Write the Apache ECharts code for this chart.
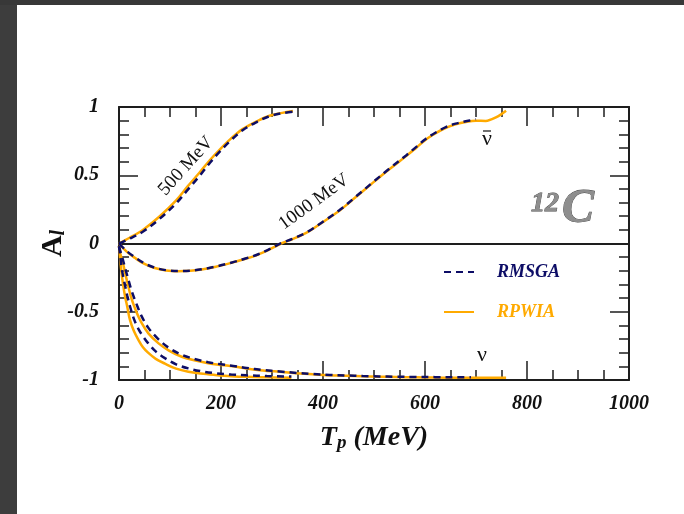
<!DOCTYPE html>
<html>
<head>
<meta charset="utf-8">
<script src="https://cdn.jsdelivr.net/npm/echarts@6/dist/echarts.min.js"></script>
<style>
html,body{margin:0;padding:0;background:#fff;}
#chart{width:684px;height:514px;}
</style>
</head>
<body>
<div id="chart"></div>
<script>
// ---- data ----
// anti-neutrino, 500 MeV
const tp_nubar500   = [0, 20, 48, 80, 113, 135, 158, 178, 198, 220, 243, 270, 295, 320, 341];
const rpwia_nubar500 = [0, 0.04, 0.103, 0.2, 0.32, 0.42, 0.52, 0.61, 0.69, 0.77, 0.84, 0.895, 0.936, 0.957, 0.97];
const rmsga_nubar500 = [0, 0.034, 0.09, 0.182, 0.298, 0.395, 0.495, 0.59, 0.675, 0.758, 0.832, 0.89, 0.932, 0.955, 0.966];
// anti-neutrino, 1000 MeV
const tp_nubar1000   = [0, 15, 31, 50, 70, 92, 116, 140, 162, 190, 220, 248, 273, 296, 318, 340, 367, 400, 432, 465, 498, 530, 563, 583, 602, 622, 641, 660, 680, 700, 719, 739, 759];
const rpwia_nubar1000 = [0, -0.06, -0.105, -0.15, -0.18, -0.197, -0.203, -0.2, -0.19, -0.17, -0.142, -0.112, -0.081, -0.042, 0, 0.032, 0.078, 0.158, 0.24, 0.342, 0.446, 0.544, 0.64, 0.702, 0.762, 0.81, 0.848, 0.873, 0.89, 0.899, 0.898, 0.924, 0.973];
const tp_nubar1000_rm = [0, 15, 31, 50, 70, 92, 116, 140, 162, 190, 220, 248, 273, 296, 318, 340, 367, 400, 432, 465, 498, 530, 563, 583, 602, 622, 641, 660, 680, 700];
const rmsga_nubar1000 = [0, -0.055, -0.1, -0.146, -0.177, -0.195, -0.201, -0.199, -0.189, -0.169, -0.141, -0.11, -0.079, -0.04, 0.002, 0.034, 0.08, 0.16, 0.243, 0.345, 0.449, 0.548, 0.645, 0.708, 0.768, 0.815, 0.853, 0.878, 0.895, 0.91];
// neutrino, 500 MeV
const tp_nu500    = [0, 2, 5, 8, 12, 16, 21.5, 29, 38, 47, 57, 72, 90, 112, 136, 160, 188, 220, 250, 290, 338];
const rpwia_nu500 = [-0.02, -0.1, -0.215, -0.3, -0.39, -0.46, -0.56, -0.64, -0.706, -0.76, -0.8, -0.845, -0.88, -0.917, -0.94, -0.953, -0.963, -0.972, -0.977, -0.98, -0.983];
const rmsga_nu500 = [-0.02, -0.08, -0.17, -0.24, -0.31, -0.38, -0.46, -0.55, -0.625, -0.68, -0.73, -0.79, -0.84, -0.885, -0.915, -0.935, -0.95, -0.96, -0.966, -0.971, -0.975];
// neutrino, 1000 MeV
const tp_nu1000    = [0, 3, 7, 12, 18, 25, 34, 44, 58, 77, 98, 123, 150, 175, 200, 224, 250, 282, 315, 348, 380, 413, 445, 478, 510, 543, 580, 620, 674, 720, 759];
const rpwia_nu1000 = [-0.02, -0.08, -0.13, -0.215, -0.31, -0.41, -0.5, -0.58, -0.66, -0.73, -0.785, -0.83, -0.857, -0.877, -0.89, -0.9, -0.915, -0.93, -0.94, -0.95, -0.958, -0.965, -0.969, -0.973, -0.976, -0.978, -0.98, -0.982, -0.983, -0.983, -0.983];
const tp_nu1000_rm = [0, 3, 7, 12, 18, 25, 34, 44, 58, 77, 98, 123, 150, 175, 200, 224, 250, 282, 315, 348, 380, 413, 445, 478, 510, 543, 580, 620, 674, 690];
const rmsga_nu1000 = [-0.02, -0.06, -0.11, -0.18, -0.26, -0.35, -0.44, -0.53, -0.62, -0.7, -0.765, -0.815, -0.848, -0.87, -0.885, -0.897, -0.912, -0.927, -0.938, -0.948, -0.956, -0.963, -0.967, -0.971, -0.974, -0.976, -0.978, -0.979, -0.98, -0.98];
// axis ticks
const xTicks = {min: 0, max: 1000, interval: 200};
const yTicks = {min: -1, max: 1, interval: 0.5};

const zip = (xs, ys) => xs.map((x, i) => [x, ys[i]]);

const SERIF = '"Liberation Serif", "DejaVu Serif", serif';
const ORANGE = '#ffaa00';
const NAVY = '#0d0d66';
const AX = '#1e1e1e';

function rp(xs, ys, extra) {
  return Object.assign({
    name: 'RPWIA', type: 'line', data: zip(xs, ys), smooth: 0.35,
    symbol: 'none', showSymbol: false, z: 2,
    lineStyle: {color: ORANGE, width: 2.5}, itemStyle: {color: ORANGE}
  }, extra || {});
}
function rm(xs, ys) {
  return {
    name: 'RMSGA', type: 'line', data: zip(xs, ys), smooth: 0.35,
    symbol: 'none', showSymbol: false, z: 3,
    lineStyle: {color: NAVY, width: 2.5, type: [7, 5]}, itemStyle: {color: NAVY}
  };
}

const baseAxis = {
  axisLine: {show: true, onZero: false, lineStyle: {color: AX, width: 2}},
  axisTick: {show: true, inside: true, length: 19, lineStyle: {color: AX, width: 1.5}},
  minorTick: {show: true, length: 10, lineStyle: {color: AX, width: 1.5}},
  splitLine: {show: false},
  minorSplitLine: {show: false}
};
const labelStyle = {fontFamily: SERIF, fontWeight: 'bold', fontStyle: 'italic', fontSize: 20, color: '#111',
  formatter: v => String(v)};

const chart = echarts.init(document.getElementById('chart'));
chart.setOption({
  animation: false,
  backgroundColor: '#fff',
  grid: {left: 119, right: 55, top: 107, bottom: 134},
  xAxis: [
    Object.assign({}, baseAxis, {
      type: 'value', position: 'bottom', min: xTicks.min, max: xTicks.max, interval: xTicks.interval,
      minorTick: Object.assign({}, baseAxis.minorTick, {splitNumber: 4}),
      axisLabel: Object.assign({margin: 14}, labelStyle),
      name: '{a|T}{s|p}{a| (MeV)}', nameLocation: 'middle', nameGap: 42,
      nameTextStyle: {rich: {
        a: {fontFamily: SERIF, fontWeight: 'bold', fontStyle: 'italic', fontSize: 28, color: '#111'},
        s: {fontFamily: SERIF, fontWeight: 'bold', fontStyle: 'italic', fontSize: 19, color: '#111', verticalAlign: 'bottom', padding: [12, 0, 0, 0]}
      }}
    }),
    Object.assign({}, baseAxis, {
      type: 'value', position: 'top', min: xTicks.min, max: xTicks.max, interval: xTicks.interval,
      minorTick: Object.assign({}, baseAxis.minorTick, {splitNumber: 4}),
      axisLabel: {show: false}
    })
  ],
  yAxis: [
    Object.assign({}, baseAxis, {
      type: 'value', position: 'left', min: yTicks.min, max: yTicks.max, interval: yTicks.interval,
      minorTick: Object.assign({}, baseAxis.minorTick, {splitNumber: 5}),
      axisLabel: Object.assign({margin: 20}, labelStyle),
      name: '{a|A}{s|l}', nameLocation: 'middle', nameGap: 50, nameRotate: 90, nameMoveOverlap: false,
      nameTextStyle: {rich: {
        a: {fontFamily: SERIF, fontWeight: 'bold', fontSize: 30, color: '#111'},
        s: {fontFamily: SERIF, fontWeight: 'bold', fontStyle: 'italic', fontSize: 20, color: '#111', verticalAlign: 'bottom', padding: [12, 0, 0, 0]}
      }}
    }),
    Object.assign({}, baseAxis, {
      type: 'value', position: 'right', min: yTicks.min, max: yTicks.max, interval: yTicks.interval,
      minorTick: Object.assign({}, baseAxis.minorTick, {splitNumber: 5}),
      axisLabel: {show: false}
    })
  ],
  legend: {
    orient: 'vertical', left: 438, top: 258, itemWidth: 30, itemHeight: 14, itemGap: 22,
    selectedMode: false,
    itemStyle: {opacity: 0},
    data: [
      {name: 'RMSGA', textStyle: {color: NAVY}},
      {name: 'RPWIA', textStyle: {color: ORANGE}}
    ],
    textStyle: {fontFamily: SERIF, fontWeight: 'bold', fontStyle: 'italic', fontSize: 18, padding: [0, 0, 0, 18]}
  },
  series: [
    rp(tp_nubar500, rpwia_nubar500, {
      markLine: {silent: true, symbol: 'none', label: {show: false},
        lineStyle: {color: AX, width: 2, type: 'solid'}, data: [{yAxis: 0}], z: 1}
    }),
    rp(tp_nubar1000, rpwia_nubar1000),
    rp(tp_nu500, rpwia_nu500),
    rp(tp_nu1000, rpwia_nu1000),
    rm(tp_nubar500, rmsga_nubar500),
    rm(tp_nubar1000_rm, rmsga_nubar1000),
    rm(tp_nu500, rmsga_nu500),
    rm(tp_nu1000_rm, rmsga_nu1000)
  ],
  graphic: [
    {type: 'rect', shape: {x: 0, y: 0, width: 17, height: 514}, style: {fill: '#3d3d3d'}, z: 100},
    {type: 'rect', shape: {x: 0, y: 0, width: 684, height: 5}, style: {fill: '#383838'}, z: 100},
    {type: 'text', x: 186, y: 166, rotation: 48 * Math.PI / 180,
      style: {text: '500 MeV', font: '19px ' + SERIF, fill: '#111', align: 'center', verticalAlign: 'middle'}},
    {type: 'text', x: 314, y: 202, rotation: 36 * Math.PI / 180,
      style: {text: '1000 MeV', font: '19px ' + SERIF, fill: '#111', align: 'center', verticalAlign: 'middle'}},
    {type: 'text', x: 487, y: 139,
      style: {text: 'ν', font: '22px ' + SERIF, fill: '#111', align: 'center', verticalAlign: 'middle'}},
    {type: 'line', shape: {x1: 483, y1: 131, x2: 491, y2: 131}, style: {stroke: '#111', lineWidth: 1.2}},
    {type: 'text', x: 482, y: 355,
      style: {text: 'ν', font: '22px ' + SERIF, fill: '#111', align: 'center', verticalAlign: 'middle'}},
    {type: 'text', x: 545, y: 204,
      style: {text: '12', font: 'bold italic 28px ' + SERIF, fill: '#8e8e8e', align: 'center', verticalAlign: 'middle',
        stroke: '#444', lineWidth: 0.8, shadowColor: 'rgba(0,0,0,0.55)', shadowOffsetX: 2, shadowOffsetY: 2, shadowBlur: 1}},
    {type: 'text', x: 578, y: 210,
      style: {text: 'C', font: 'bold italic 48px ' + SERIF, fill: '#8e8e8e', align: 'center', verticalAlign: 'middle',
        stroke: '#444', lineWidth: 0.8, shadowColor: 'rgba(0,0,0,0.55)', shadowOffsetX: 2, shadowOffsetY: 2, shadowBlur: 1}}
  ]
});
</script>
</body>
</html>
